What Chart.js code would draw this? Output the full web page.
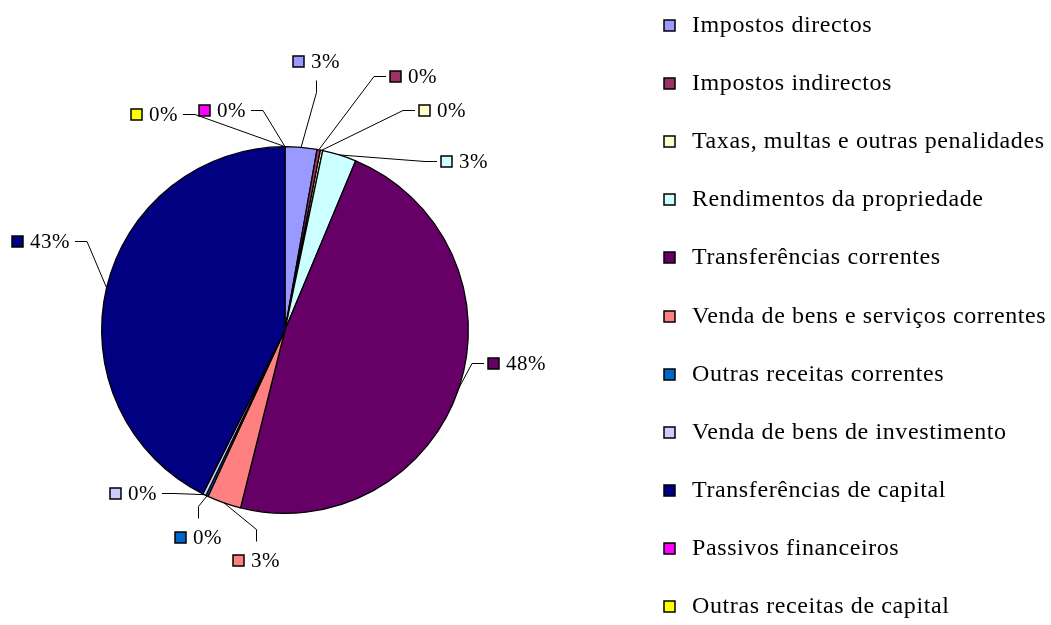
<!DOCTYPE html>
<html>
<head>
<meta charset="utf-8">
<script src="https://cdn.jsdelivr.net/npm/chart.js@4/dist/chart.umd.min.js"></script>
<style>
  body { margin: 0; background: #fff; }
</style>
</head>
<body>
<canvas id="receitas" width="1051" height="625"></canvas>
<script>
const categories = [
    'Impostos directos',
    'Impostos indirectos',
    'Taxas, multas e outras penalidades',
    'Rendimentos da propriedade',
    'Transferências correntes',
    'Venda de bens e serviços correntes',
    'Outras receitas correntes',
    'Venda de bens de investimento',
    'Transferências de capital',
    'Passivos financeiros',
    'Outras receitas de capital'
];
const values = [2.8, 0.3, 0.2, 3.0, 47.6, 3.0, 0.2, 0.3, 42.6, 0, 0];
const colors = ['#9999FF', '#993366', '#FFFFCC', '#CCFFFF', '#660066', '#FF8080',
                '#0066CC', '#CCCCFF', '#000080', '#FF00FF', '#FFFF00'];

// where each data label sits (marker offset from the pie centre) and which side the leader enters
const labelSpots = [
    [8, -269, 'bottom'],
    [105, -254, 'left'],
    [134, -220, 'left'],
    [156, -169, 'left'],
    [203, 33, 'left'],
    [-52, 230, 'top'],
    [-110, 207, 'top'],
    [-175, 163, 'right'],
    [-273, -89, 'right'],
    [-86, -220, 'right'],
    [-154, -216, 'right']
];

const SERIF = '"Liberation Serif", "Times New Roman", serif';

const pieLabels = {
    id: 'pieLabels',
    afterDatasetsDraw(chart) {
        const ctx = chart.ctx;
        const meta = chart.getDatasetMeta(0);
        const total = values.reduce((a, b) => a + b, 0);
        ctx.save();
        ctx.font = '21px ' + SERIF;
        ctx.letterSpacing = '0.5px';
        ctx.textBaseline = 'middle';
        meta.data.forEach((arc, i) => {
            const p = arc.getProps(['x', 'y', 'startAngle', 'endAngle', 'outerRadius'], true);
            const mid = (p.startAngle + p.endAngle) / 2;
            const rx = p.x + Math.cos(mid) * p.outerRadius;
            const ry = p.y + Math.sin(mid) * p.outerRadius;
            const [dx, dy, side] = labelSpots[i];
            const text = Math.round(values[i] / total * 100) + '%';
            const mx = Math.round(p.x + dx), my = Math.round(p.y + dy);
            const tw = ctx.measureText(text).width;
            const boxL = mx, boxR = mx + 18 + tw;
            let ax, ay, ex, ey;
            if (side === 'left') { ax = boxL - 4; ay = my; ex = ax - 12; ey = my; }
            else if (side === 'right') { ax = boxR + 5; ay = my; ex = ax + 12; ey = my; }
            else if (side === 'bottom') { ax = (boxL + boxR) / 2; ay = my + 19; ex = ax; ey = my + 31; }
            else { ax = (boxL + boxR) / 2; ay = my - 19; ex = ax; ey = my - 31; }

            ctx.strokeStyle = '#000';
            ctx.lineWidth = 1;
            ctx.beginPath();
            ctx.moveTo(rx, ry);
            ctx.lineTo(ex, ey + 0.5);
            ctx.lineTo(ax, ay + 0.5);
            ctx.stroke();

            ctx.fillStyle = colors[i];
            ctx.fillRect(mx, my - 5, 11, 11);
            ctx.lineWidth = 1.5;
            ctx.strokeRect(mx, my - 5, 11, 11);
            ctx.fillStyle = '#000';
            ctx.fillText(text, mx + 18, my + 1);
        });
        ctx.restore();
    }
};

const sideLegend = {
    id: 'sideLegend',
    afterDraw(chart) {
        const ctx = chart.ctx;
        ctx.save();
        ctx.font = '24px ' + SERIF;
        ctx.letterSpacing = '0.6px';
        ctx.textBaseline = 'middle';
        categories.forEach((name, i) => {
            const cy = Math.round(25 + i * 58.1);
            ctx.fillStyle = colors[i];
            ctx.fillRect(664, cy - 5, 11, 11);
            ctx.strokeStyle = '#000';
            ctx.lineWidth = 1.5;
            ctx.strokeRect(664, cy - 5, 11, 11);
            ctx.fillStyle = '#000';
            ctx.fillText(name, 692, cy + 1);
        });
        ctx.restore();
    }
};

const ctx = document.getElementById('receitas').getContext('2d');
new Chart(ctx, {
    type: 'pie',
    data: {
        labels: categories,
        datasets: [{
            data: values,
            backgroundColor: colors,
            borderColor: '#000',
            borderWidth: 1.3
        }]
    },
    options: {
        responsive: false,
        animation: false,
        layout: {
            padding: { left: 101, top: 146, right: 582, bottom: 111 }
        },
        plugins: {
            legend: { display: false },
            tooltip: { enabled: false }
        }
    },
    plugins: [pieLabels, sideLegend]
});
</script>
</body>
</html>
